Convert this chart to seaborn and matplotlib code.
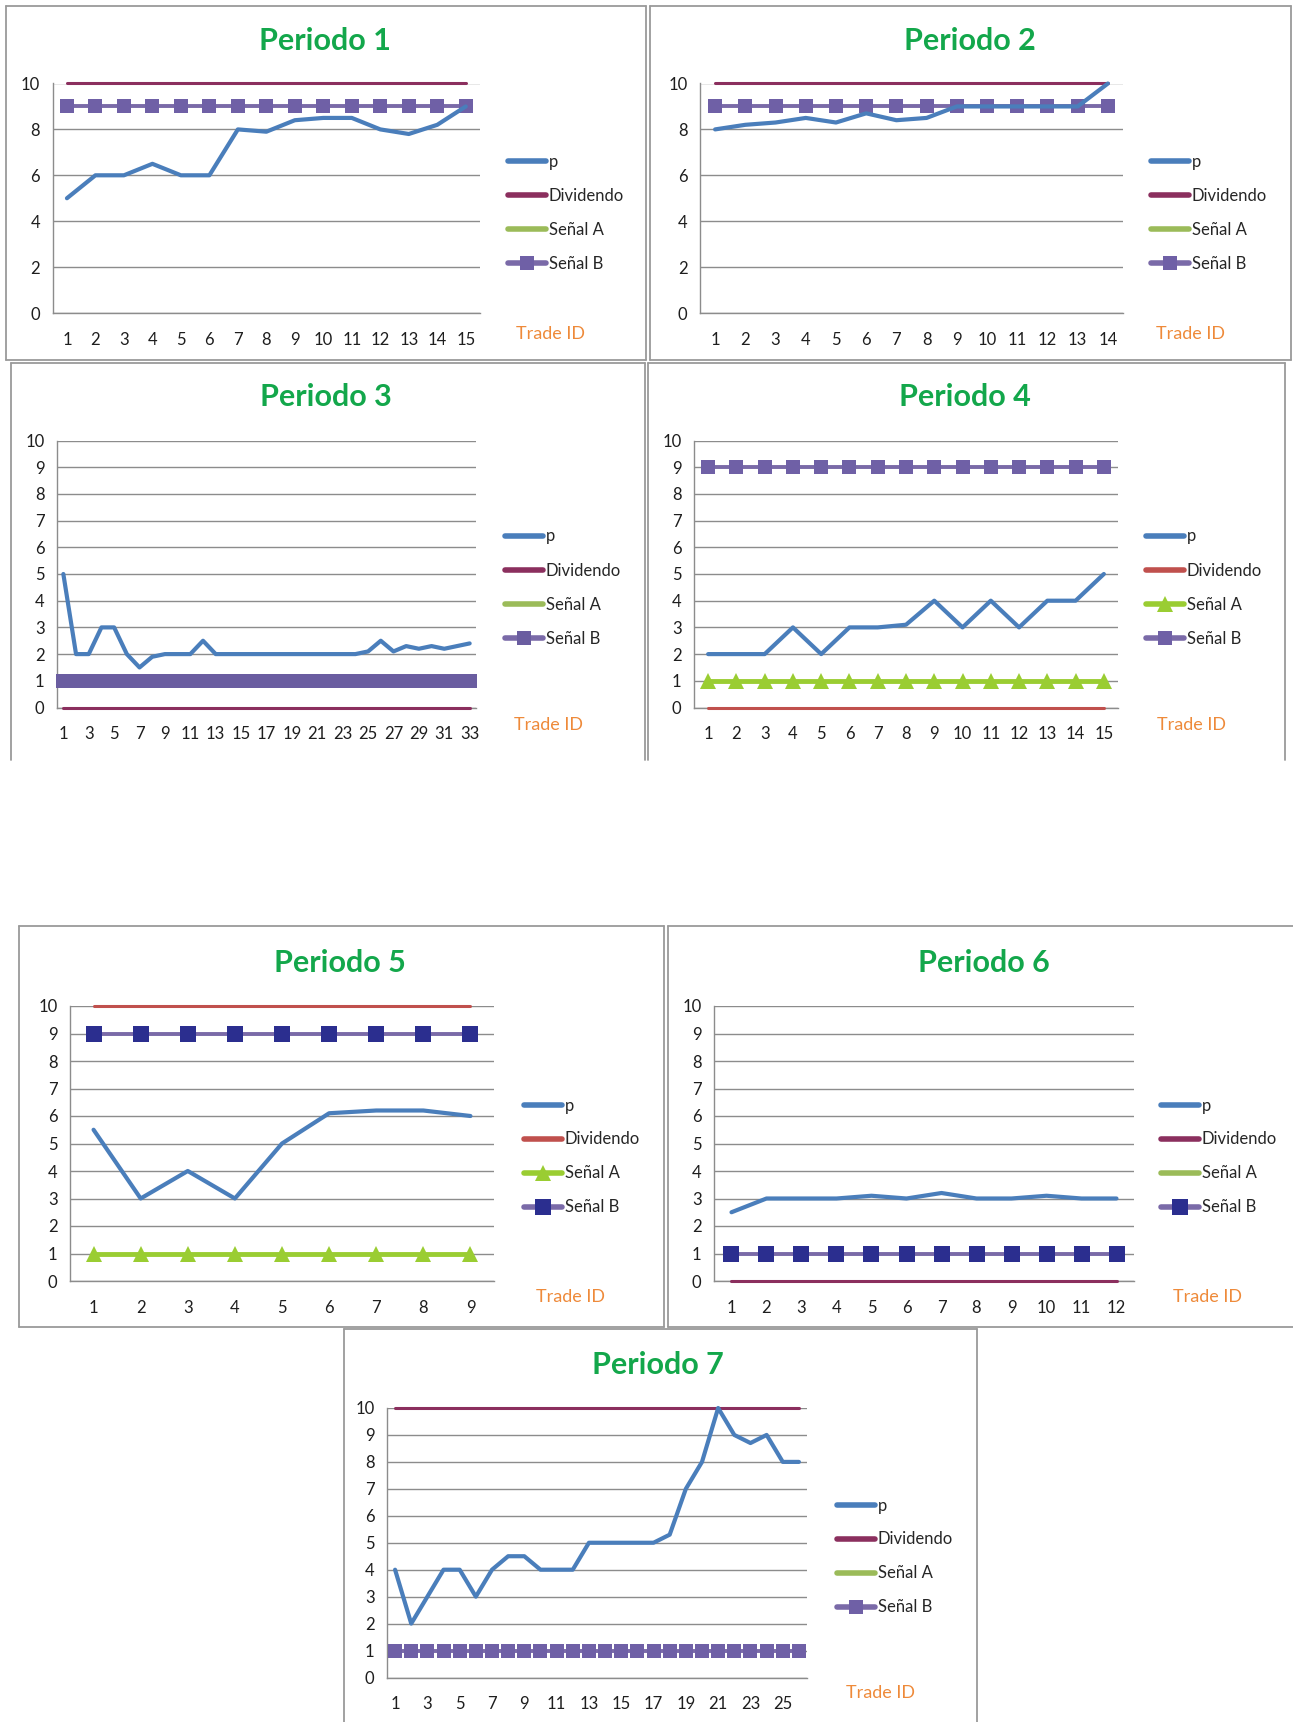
import numpy as np
import pandas as pd
import matplotlib
matplotlib.use("Agg")
import matplotlib.pyplot as plt
import seaborn as sns
from matplotlib.lines import Line2D

# ---------------- data ----------------
titles = ["Periodo 1", "Periodo 2", "Periodo 3", "Periodo 4", "Periodo 5", "Periodo 6", "Periodo 7"]
p1 = [5, 6, 6, 6.5, 6, 6, 8, 7.9, 8.4, 8.5, 8.5, 8, 7.8, 8.2, 9]
p2 = [8, 8.2, 8.3, 8.5, 8.3, 8.7, 8.4, 8.5, 9, 9, 9, 9, 9, 10]
p3 = [5, 2, 2, 3, 3, 2, 1.5, 1.9, 2, 2, 2, 2.5, 2, 2, 2, 2, 2, 2, 2, 2, 2, 2, 2, 2,
      2.1, 2.5, 2.1, 2.3, 2.2, 2.3, 2.2, 2.3, 2.4]
p4 = [2, 2, 2, 3, 2, 3, 3, 3.1, 4, 3, 4, 3, 4, 4, 5]
p5 = [5.5, 3, 4, 3, 5, 6.1, 6.2, 6.2, 6]
p6 = [2.5, 3, 3, 3, 3.1, 3, 3.2, 3, 3, 3.1, 3, 3]
p7 = [4, 2, 3, 4, 4, 3, 4, 4.5, 4.5, 4, 4, 4, 5, 5, 5, 5, 5, 5.3, 7, 8, 10, 9, 8.7, 9, 8, 8]
p_series = [p1, p2, p3, p4, p5, p6, p7]
dividendo = [10, 10, 0, 0, 10, 0, 10]
senal_a = [None, None, None, 1, 1, None, None]
senal_b = [9, 9, 1, 9, 9, 1, 1]
ytick_step = [2, 2, 1, 1, 1, 1, 1]
xlabel_step = [1, 1, 2, 1, 1, 1, 2]
legend_labels = ["p", "Dividendo", "Señal A", "Señal B"]

# ---------------- styling / layout ----------------
W, H = 1293, 1722
sns.set_style("white")
plt.rcParams["font.family"] = ["Lato", "DejaVu Sans"]

P_BLUE = "#4A7EBB"
DIV_COLORS = ["#8B2F5E", "#8B2F5E", "#8B2F5E", "#C0504D", "#C0504D", "#8B2F5E", "#8B2F5E"]
SA_LINE = "#9BBB59"
SA_BRIGHT = "#9ACD32"
SB_LINE = "#7A6AA8"
SB_MARK = ["#6F60A6", "#6F60A6", "#6A5DA0", "#6F60A6", "#2B2E8F", "#2B2E8F", "#6F60A6"]
SB_MS = [10.5, 10.5, 10.5, 10.5, 11.5, 11.5, 10.5]
GRID = "#8C8C8C"
TITLE_GREEN = "#13A74B"
ORANGE = "#EE8A3A"

# frames: (x0, y0, x1, y1, draw_bottom)
frames = [(5.5, 5.5, 646, 360, True), (650, 5.5, 1291, 360, True),
          (11, 362.5, 645, 760, False), (648, 362.5, 1285, 760, False),
          (18.7, 926, 663.5, 1327, True), (668, 926, 1300, 1327, True),
          (344, 1329, 977, 1730, True)]
axes_px = [(52.7, 83.5, 480, 313), (700, 83.5, 1123, 313),
           (57, 440.5, 476, 707.5), (694, 440.5, 1118, 707.5),
           (70, 1006, 494, 1281), (714, 1006, 1134, 1281),
           (387, 1408, 807, 1677.5)]
title_pos = [(325, 41), (970, 41), (326, 397), (964.5, 397), (339.5, 963), (984, 963), (658, 1365.5)]
legend_pos = [(508, 161.5), (1151, 161.5), (505, 536), (1146, 536), (524, 1105), (1161, 1105), (837, 1505)]
trade_pos = [(516, 334), (1156, 334), (514, 725), (1157, 725), (536, 1297), (1173, 1297), (846, 1693)]

fig = plt.figure(figsize=(W / 100, H / 100), dpi=100)
fig.patch.set_facecolor("white")


def fx(x):
    return x / W


def fy(y):
    return 1 - y / H


for i in range(7):
    p = p_series[i]
    n = len(p)
    ids = np.arange(1, n + 1)
    df = pd.DataFrame({"Trade ID": ids, "p": p,
                       "Dividendo": np.full(n, dividendo[i], dtype=float),
                       "Señal B": np.full(n, senal_b[i], dtype=float)})
    if senal_a[i] is not None:
        df["Señal A"] = np.full(n, senal_a[i], dtype=float)

    x0, y0, x1, y1 = axes_px[i]
    ax = fig.add_axes([fx(x0), fy(y1), (x1 - x0) / W, (y1 - y0) / H])
    ax.set_facecolor("none")

    # series
    sns.lineplot(data=df, x="Trade ID", y="Dividendo", ax=ax, color=DIV_COLORS[i],
                 linewidth=2.2, clip_on=False, legend=False, zorder=3)
    if senal_a[i] is not None:
        sns.lineplot(data=df, x="Trade ID", y="Señal A", ax=ax, color=SA_BRIGHT,
                     linewidth=3.5, marker="^", markersize=11, markeredgewidth=0,
                     markerfacecolor=SA_BRIGHT, clip_on=False, legend=False, zorder=4)
    sns.lineplot(data=df, x="Trade ID", y="Señal B", ax=ax, color=SB_LINE,
                 linewidth=2.8, marker="s", markersize=SB_MS[i], markeredgewidth=0,
                 markerfacecolor=SB_MARK[i], clip_on=False, legend=False, zorder=4)
    sns.lineplot(data=df, x="Trade ID", y="p", ax=ax, color=P_BLUE,
                 linewidth=3.0, clip_on=False, legend=False, zorder=5)

    # axes
    ax.set_xlim(0.5, n + 0.5)
    ax.set_ylim(0, 10)
    ax.set_xlabel("")
    ax.set_ylabel("")
    ax.set_yticks(np.arange(0, 10.01, ytick_step[i]))
    ax.set_yticklabels([str(int(v)) for v in np.arange(0, 10.01, ytick_step[i])])
    ax.set_xticks(ids[::xlabel_step[i]])
    ax.set_xticklabels([str(v) for v in ids[::xlabel_step[i]]])
    ax.set_xticks(np.arange(0.5, n + 1, 1), minor=True)
    ax.tick_params(axis="x", which="major", length=0, pad=13.5, labelsize=12, labelcolor="#1E1E1E")
    ax.tick_params(axis="x", which="minor", length=5, width=1, color=GRID, direction="out")
    ax.tick_params(axis="y", which="major", length=5, width=1, color=GRID, direction="out",
                   pad=4, labelsize=12, labelcolor="#1E1E1E")
    ax.yaxis.grid(True, color=GRID, linewidth=1.0)
    ax.xaxis.grid(False)
    ax.set_axisbelow(True)
    for s in ["top", "right"]:
        ax.spines[s].set_visible(False)
    for s in ["left", "bottom"]:
        ax.spines[s].set_color(GRID)
        ax.spines[s].set_linewidth(1.0)

    # legend
    if senal_a[i] is not None:
        sa_handle = Line2D([], [], color=SA_BRIGHT, lw=4, marker="^", markersize=11,
                           markeredgewidth=0, markerfacecolor=SA_BRIGHT)
    else:
        sa_handle = Line2D([], [], color=SA_LINE, lw=4)
    handles = [Line2D([], [], color=P_BLUE, lw=4),
               Line2D([], [], color=DIV_COLORS[i], lw=4),
               sa_handle,
               Line2D([], [], color=SB_LINE, lw=4, marker="s", markersize=SB_MS[i],
                      markeredgewidth=0, markerfacecolor=SB_MARK[i])]
    lx, ly = legend_pos[i]
    ax.legend(handles, legend_labels, loc="upper left",
              bbox_to_anchor=(fx(lx), fy(ly - 7.5)), bbox_transform=fig.transFigure,
              frameon=False, fontsize=12, handlelength=2.3, handletextpad=0.15,
              labelspacing=1.08, borderpad=0, borderaxespad=0)

    # title & Trade ID
    tx, ty = title_pos[i]
    fig.text(fx(tx), fy(ty), titles[i], ha="center", va="center", fontsize=22,
             fontweight="bold", color=TITLE_GREEN)
    ox, oy = trade_pos[i]
    fig.text(fx(ox), fy(oy), "Trade ID", ha="left", va="center", fontsize=13, color=ORANGE)

# frames
for (a, b, c, d, bottom) in frames:
    segs = [((a, a), (b, d)), ((a, c), (b, b)), ((c, c), (b, d))]
    if bottom:
        segs.append(((a, c), (d, d)))
    for xs, ys in segs:
        fig.add_artist(Line2D([fx(v) for v in xs], [fy(v) for v in ys],
                              color="#9A9A9A", lw=1.3, transform=fig.transFigure))

fig.savefig("out.png", dpi=100, facecolor="white")
